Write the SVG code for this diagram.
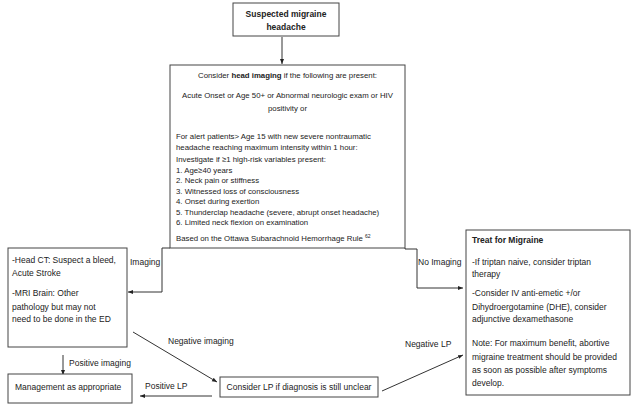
<svg xmlns="http://www.w3.org/2000/svg" width="640" height="413" viewBox="0 0 640 413">
<style>
text{font-family:"Liberation Sans",Arial,sans-serif;fill:#222;}
.box{fill:#fff;stroke:#444;stroke-width:1;}
.m{font-size:7.8px;}
.s{font-size:8.5px;}
.b{font-weight:bold;}
.c{text-anchor:middle;}
.ln{fill:none;stroke:#333;stroke-width:1;}
</style>
<defs>
<marker id="ah" viewBox="0 0 10 10" refX="10" refY="5" markerWidth="5" markerHeight="5" orient="auto">
<path d="M0,1 L10,5 L0,9 z" fill="#222"/>
</marker>
</defs>
<rect width="640" height="413" fill="#fff"/>
<g id="connectors">
<path class="ln" d="M282,37 V64" marker-end="url(#ah)"/>
<path class="ln" d="M170,248 H162 V292 H128" marker-end="url(#ah)"/>
<path class="ln" d="M405,248 V249 H417 V288 H463" marker-end="url(#ah)"/>
<path class="ln" d="M133,332 L217,382" marker-end="url(#ah)"/>
<path class="ln" d="M63,355 V375" marker-end="url(#ah)"/>
<path class="ln" d="M212,396 H140" marker-end="url(#ah)"/>
<path class="ln" d="M382,391 L463,355" marker-end="url(#ah)"/>
<text class="s" x="130" y="265">Imaging</text>
<text class="s" x="418" y="265">No Imaging</text>
<text class="s" x="168" y="344">Negative imaging</text>
<text class="s" x="69" y="366">Positive imaging</text>
<text class="s" x="145" y="389">Positive LP</text>
<text class="s" x="405" y="347">Negative LP</text>
</g>
<g id="start">
<rect class="box" x="233" y="3" width="106" height="33"/>
<text class="s b c" x="286" y="17">Suspected migraine</text>
<text class="s b c" x="286" y="30">headache</text>
</g>
<g id="criteria">
<rect class="box" x="170" y="65" width="235" height="183"/>
<text class="m c" x="287.5" y="78">Consider <tspan class="b">head imaging</tspan> if the following are present:</text>
<text class="m c" x="287.5" y="98">Acute Onset or Age 50+ or Abnormal neurologic exam or HIV</text>
<text class="m c" x="287.5" y="111">positivity or</text>
<text class="m" x="176" y="139">For alert patients&gt; Age 15 with new severe nontraumatic</text>
<text class="m" x="176" y="149.5">headache reaching maximum intensity within 1 hour:</text>
<text class="m" x="176" y="162">Investigate if ≥1 high-risk variables present:</text>
<text class="m" x="176" y="172.5">1. Age≥40 years</text>
<text class="m" x="176" y="183">2. Neck pain or stiffness</text>
<text class="m" x="176" y="193.5">3. Witnessed loss of consciousness</text>
<text class="m" x="176" y="204">4. Onset during exertion</text>
<text class="m" x="176" y="214.5">5. Thunderclap headache (severe, abrupt onset headache)</text>
<text class="m" x="176" y="225">6. Limited neck flexion on examination</text>
<text class="m" x="176" y="241">Based on the Ottawa Subarachnoid Hemorrhage Rule <tspan font-size="5" dy="-3">62</tspan></text>
</g>
<g id="imaging">
<rect class="box" x="8" y="248" width="119" height="99"/>
<text class="s" x="12" y="263">-Head CT: Suspect a bleed,</text>
<text class="s" x="12" y="276">Acute Stroke</text>
<text class="s" x="12" y="296">-MRI Brain:  Other</text>
<text class="s" x="12" y="310">pathology but may not</text>
<text class="s" x="12" y="322">need to be done in the ED</text>
</g>
<g id="treat">
<rect class="box" x="466" y="230" width="164" height="165"/>
<text class="s b" x="472" y="243">Treat for Migraine</text>
<text class="s" x="472" y="265">-If triptan naive, consider triptan</text>
<text class="s" x="472" y="277">therapy</text>
<text class="s" x="472" y="296">-Consider IV anti-emetic +/or</text>
<text class="s" x="472" y="310">Dihydroergotamine (DHE), consider</text>
<text class="s" x="472" y="322">adjunctive dexamethasone</text>
<text class="s" x="472" y="346">Note: For maximum benefit, abortive</text>
<text class="s" x="472" y="360">migraine treatment should be provided</text>
<text class="s" x="472" y="373">as soon as possible after symptoms</text>
<text class="s" x="472" y="386">develop.</text>
</g>
<g id="management">
<rect class="box" x="8" y="374" width="124" height="29"/>
<text class="s" x="15" y="390">Management as appropriate</text>
</g>
<g id="lp">
<rect class="box" x="220" y="377" width="158" height="20"/>
<text class="s c" x="299" y="390">Consider LP if diagnosis is still unclear</text>
</g>
</svg>
